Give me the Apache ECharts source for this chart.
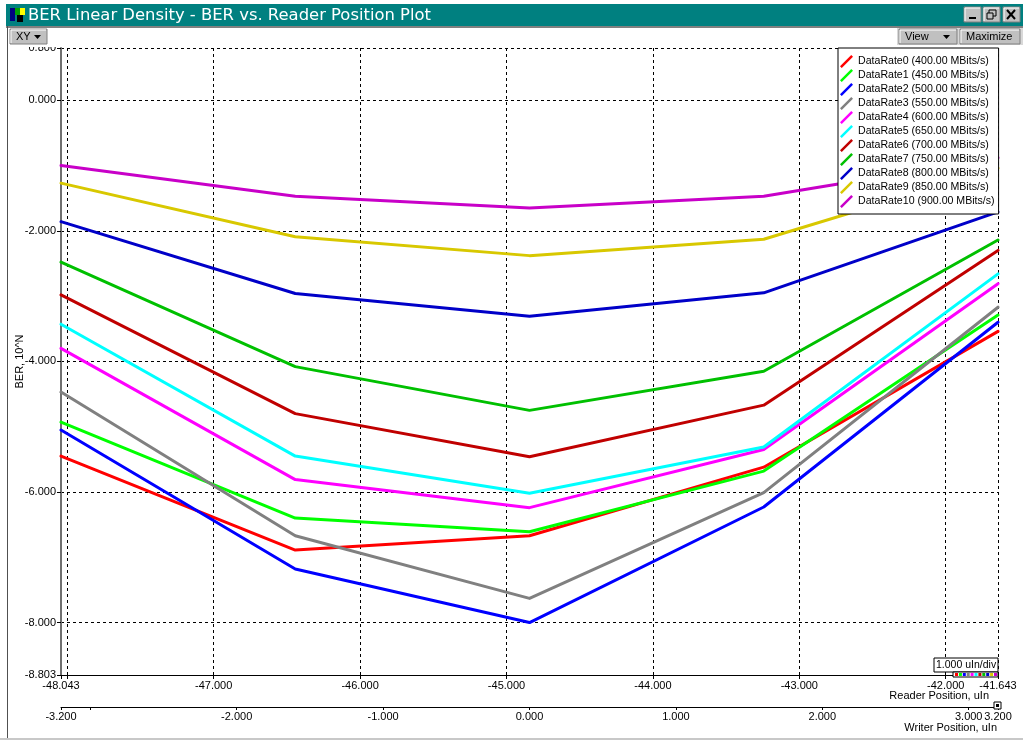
<!DOCTYPE html>
<html>
<head>
<meta charset="utf-8">
<style>html,body{margin:0;padding:0;background:#fff}#chart{width:1023px;height:740px}</style>
<script src="https://cdn.jsdelivr.net/npm/echarts@6/dist/echarts.min.js"></script>
</head>
<body>
<div id="chart"></div>
<script>
const titleText = 'BER Linear Density - BER vs. Reader Position Plot';
const writerPositions = [-3.2, -1.6, 0, 1.6, 3.2];
const seriesNames = ['DataRate0 (400.00 MBits/s)','DataRate1 (450.00 MBits/s)','DataRate2 (500.00 MBits/s)','DataRate3 (550.00 MBits/s)','DataRate4 (600.00 MBits/s)','DataRate5 (650.00 MBits/s)','DataRate6 (700.00 MBits/s)','DataRate7 (750.00 MBits/s)','DataRate8 (800.00 MBits/s)','DataRate9 (850.00 MBits/s)','DataRate10 (900.00 MBits/s)'];
const colors = ['#ff0000','#00ff00','#0000ff','#808080','#ff00ff','#00ffff','#c00000','#00c000','#0000c8','#d8c800','#c800c8'];
const dataRate0 = [-5.45,-6.89,-6.67,-5.62,-3.54];
const dataRate1 = [-4.93,-6.40,-6.61,-5.68,-3.29];
const dataRate2 = [-5.05,-7.18,-8.00,-6.23,-3.40];
const dataRate3 = [-4.47,-6.67,-7.63,-6.01,-3.17];
const dataRate4 = [-3.80,-5.81,-6.24,-5.35,-2.81];
const dataRate5 = [-3.43,-5.45,-6.02,-5.31,-2.66];
const dataRate6 = [-2.98,-4.80,-5.46,-4.67,-2.30];
const dataRate7 = [-2.48,-4.08,-4.75,-4.15,-2.14];
const dataRate8 = [-1.86,-2.96,-3.31,-2.95,-1.71];
const dataRate9 = [-1.27,-2.09,-2.38,-2.13,-1.04];
const dataRate10 = [-1.00,-1.47,-1.65,-1.47,-0.88];
const allRates = [dataRate0,dataRate1,dataRate2,dataRate3,dataRate4,dataRate5,dataRate6,dataRate7,dataRate8,dataRate9,dataRate10];
const yTicks = [0.8,0,-2,-4,-6,-8,-8.803];
const readerTicks = [-48.043,-48,-47,-46,-45,-44,-43,-42,-41.643];
const readerLabels = [-48.043,-47,-46,-45,-44,-43,-42,-41.643];
const writerTicks = [-3.2,-3,-2,-1,0,1,2,3,3.2];
const writerLabels = [-3.2,-2,-1,0,1,2,3,3.2];

const FONT = '"Liberation Sans", Arial, sans-serif';
const fmt = v => v.toFixed(3);
const gray = '#c0c0c0';

function button(x,y,w,h,label,fontSize){
  const items = [
    {type:'rect',z:50,shape:{x,y,width:w,height:h},style:{fill:gray,stroke:'#808080',lineWidth:1}},
    {type:'polyline',z:51,shape:{points:[[x+1,y+h-1],[x+1,y+1],[x+w-1,y+1]]},style:{stroke:'#ffffff',fill:null,lineWidth:1}}
  ];
  if(label) items.push({type:'text',z:52,x:x+6,y:y+h/2,style:{text:label,fill:'#000',font:(fontSize||11)+'px '+FONT,verticalAlign:'middle'}});
  return items;
}
function arrow(x,y){return {type:'polygon',z:52,shape:{points:[[x,y],[x+7,y],[x+3.5,y+4]]},style:{fill:'#000'}};}

const graphics = [
  {type:'rect',z:0,shape:{x:6,y:4,width:1017,height:22},style:{fill:'#008080'}},
  {type:'rect',z:0,shape:{x:6,y:26,width:1017,height:2},style:{fill:'#808080'}},
  {type:'rect',z:0,shape:{x:7,y:26,width:1,height:712},style:{fill:'#505050'}},
  {type:'rect',z:0,shape:{x:0,y:738,width:1023,height:2},style:{fill:'#c8c8c8'}},
  {type:'rect',z:0,shape:{x:897,y:28,width:126,height:17},style:{fill:'#d8d8d8'}},
  {type:'rect',z:1,shape:{x:10,y:8,width:5,height:13},style:{fill:'#000080'}},
  {type:'rect',z:1,shape:{x:15,y:8,width:5,height:7},style:{fill:'#00a000'}},
  {type:'rect',z:1,shape:{x:20,y:8,width:5,height:7},style:{fill:'#ffff00'}},
  {type:'rect',z:1,shape:{x:17,y:15,width:6,height:7},style:{fill:'#000000'}},
  {type:'rect',z:45,shape:{x:25,y:42,width:33,height:5},style:{fill:'#ffffff'}},
  ...button(10,29,37,15,'XY'),
  arrow(34,35),
  ...button(899,29,58,15,'View'),
  arrow(943,35),
  ...button(960,29,60,15,'Maximize'),
  ...button(964,7,17,15,''),
  {type:'rect',z:52,shape:{x:969,y:17,width:7,height:2},style:{fill:'#000'}},
  ...button(983,7,17,15,''),
  {type:'rect',z:52,shape:{x:989,y:10,width:7,height:6},style:{fill:'none',stroke:'#000',lineWidth:1}},
  {type:'rect',z:52,shape:{x:987,y:13,width:6,height:6},style:{fill:gray,stroke:'#000',lineWidth:1}},
  ...button(1003,7,17,15,''),
  {type:'line',z:52,shape:{x1:1007,y1:10,x2:1015,y2:19},style:{stroke:'#000',lineWidth:2}},
  {type:'line',z:52,shape:{x1:1015,y1:10,x2:1007,y2:19},style:{stroke:'#000',lineWidth:2}},
  {type:'rect',z:40,shape:{x:934,y:658,width:64,height:14},style:{fill:'#fff',stroke:'#000',lineWidth:1}},
  {type:'text',z:41,x:936,y:665,style:{text:'1.000 uIn/div',fill:'#000',font:'10.5px '+FONT,verticalAlign:'middle'}},
  {type:'rect',z:40,shape:{x:953,y:672,width:45,height:5},style:{fill:'#fff',stroke:'#000',lineWidth:1}},
  ...colors.map((c,i)=>({type:'rect',z:41,shape:{x:955+i*3.9,y:673,width:3,height:3},style:{fill:c}})),
  {type:'rect',z:40,shape:{x:994,y:702,width:7,height:7},style:{fill:'#fff',stroke:'#000',lineWidth:1}},
  {type:'rect',z:41,shape:{x:996,y:704,width:3,height:3},style:{fill:'#000'}}
];

const chart = echarts.init(document.getElementById('chart'));
chart.setOption({
  animation:false,
  backgroundColor:'#ffffff',
  title:{text:titleText,left:28,top:8,padding:0,textStyle:{color:'#ffffff',fontFamily:'"DejaVu Sans"',fontWeight:'normal',fontSize:16.4}},
  grid:{left:61,right:25,top:48,bottom:65,containLabel:false,outerBoundsMode:'none'},
  legend:{
    orient:'vertical',left:838,top:48,padding:[7,4,6,2],itemGap:1,itemWidth:13,itemHeight:14,
    backgroundColor:'#ffffff',borderColor:'#000000',borderWidth:1,
    selectedMode:false,z:30,
    icon:'path://M0 13 L13 0 L15 2 L2 15 Z',
    textStyle:{fontFamily:FONT,fontSize:10.6,color:'#000'},
    data:seriesNames
  },
  xAxis:[
    {type:'value',min:-48.043,max:-41.643,position:'bottom',
     axisLine:{onZero:false,lineStyle:{color:'#000',width:1}},
     axisTick:{customValues:readerTicks,length:4,lineStyle:{color:'#000'}},
     axisLabel:{customValues:readerLabels,formatter:fmt,color:'#000',fontFamily:FONT,fontSize:11,margin:5,hideOverlap:false},
     splitLine:{show:true,lineStyle:{color:'#000',type:[3,3],width:1}},
     name:'Reader Position, uIn',nameLocation:'end',nameGap:-9,nameMoveOverlap:false,
     nameTextStyle:{align:'right',verticalAlign:'top',padding:[15,0,0,0],color:'#000',fontFamily:FONT,fontSize:11}},
    {type:'value',min:-3.2,max:3.2,position:'bottom',offset:32,
     axisLine:{onZero:false,lineStyle:{color:'#000',width:1}},
     axisTick:{customValues:writerTicks,length:3,lineStyle:{color:'#000'}},
     axisLabel:{customValues:writerLabels,formatter:fmt,color:'#000',fontFamily:FONT,fontSize:11,margin:4,hideOverlap:false},
     splitLine:{show:false},
     name:'Writer Position, uIn',nameLocation:'end',nameGap:-1,nameMoveOverlap:false,
     nameTextStyle:{align:'right',verticalAlign:'top',padding:[15,0,0,0],color:'#000',fontFamily:FONT,fontSize:11}}
  ],
  yAxis:{type:'value',min:-8.803,max:0.8,
    axisLine:{show:true,onZero:false,lineStyle:{color:'#707070',width:2}},
    axisTick:{customValues:yTicks,length:4,lineStyle:{color:'#000'}},
    axisLabel:{customValues:yTicks,formatter:fmt,color:'#000',fontFamily:FONT,fontSize:11,margin:5,hideOverlap:false},
    splitLine:{show:true,lineStyle:{color:'#000',type:[3,3],width:1}},
    name:'BER, 10^N',nameLocation:'middle',nameGap:36,nameRotate:90,nameMoveOverlap:false,
    nameTextStyle:{color:'#000',fontFamily:FONT,fontSize:11}
  },
  series:seriesNames.map((n,i)=>({
    name:n,type:'line',xAxisIndex:1,yAxisIndex:0,z:5+i,showSymbol:false,symbol:'none',
    lineStyle:{color:colors[i],width:3,cap:'round',join:'round'},itemStyle:{color:colors[i]},
    data:writerPositions.map((x,j)=>[x,allRates[i][j]])
  })),
  graphic:{elements:graphics}
});
</script>
</body>
</html>
